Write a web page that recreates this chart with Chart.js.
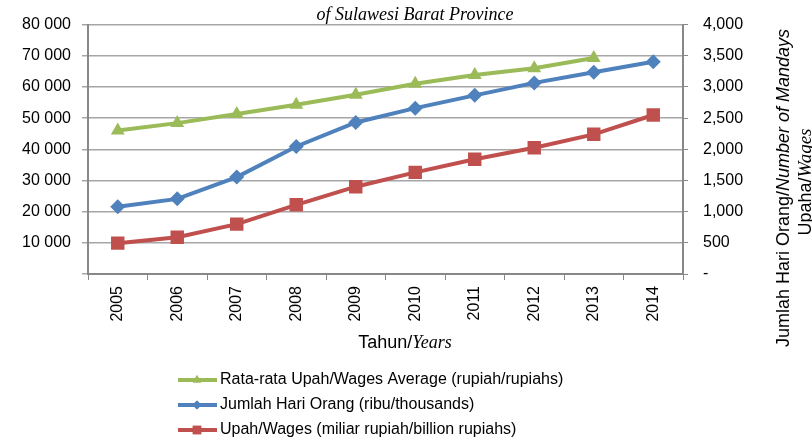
<!DOCTYPE html>
<html>
<head>
<meta charset="utf-8">
<script src="https://cdn.jsdelivr.net/npm/chart.js"></script>
<style>
  body { margin: 0; background: #fff; }
  canvas { display: block; }
</style>
</head>
<body>
<canvas id="lineChart" width="812" height="445"></canvas>
<script>
// data
const years = ['2005', '2006', '2007', '2008', '2009', '2010', '2011', '2012', '2013', '2014'];
const wagesAverage = [46000, 48400, 51300, 54300, 57500, 61000, 63800, 66000, 69300, null]; // rupiah
const mandays = [1080, 1205, 1555, 2045, 2430, 2660, 2865, 3065, 3235, 3405];     // thousands
const wages = [495, 590, 800, 1110, 1400, 1630, 1840, 2025, 2240, 2550];        // billion rupiah
const leftTicks = [0, 10000, 20000, 30000, 40000, 50000, 60000, 70000, 80000];

const GREEN = '#9bbb59', BLUE = '#4f81bd', RED = '#c0504d';
const SANS = '"Liberation Sans", Arial, sans-serif';
const SERIF = '"Liberation Serif", "Times New Roman", serif';

// draws a run of text pieces with their own fonts, one after the other
function drawPieces(ctx, pieces, x, y) {
  let cx = x;
  pieces.forEach(p => {
    ctx.font = p.font;
    ctx.fillText(p.text, cx, y);
    cx += ctx.measureText(p.text).width;
  });
}
function piecesWidth(ctx, pieces) {
  let w = 0;
  pieces.forEach(p => { ctx.font = p.font; w += ctx.measureText(p.text).width; });
  return w;
}

const extras = {
  id: 'extras',
  afterDraw(chart) {
    const ctx = chart.ctx;
    ctx.save();
    ctx.fillStyle = '#000';
    ctx.textBaseline = 'middle';

    // title (second line only, first is cut off in the source)
    ctx.font = 'italic 18px ' + SERIF;
    ctx.textAlign = 'center';
    ctx.fillText('of Sulawesi Barat Province', 415, 15);
    ctx.textAlign = 'left';

    // x axis title
    const xt = [
      { text: 'Tahun/', font: '18px ' + SANS },
      { text: 'Years', font: 'italic 18px ' + SERIF }
    ];
    drawPieces(ctx, xt, 405 - piecesWidth(ctx, xt) / 2, 343);

    // right axis title, rotated
    const r1 = [
      { text: 'Jumlah Hari Orang/', font: '18px ' + SANS },
      { text: 'Number of Mandays', font: 'italic 18px ' + SANS }
    ];
    const r2 = [
      { text: 'Upaha/', font: '18px ' + SANS },
      { text: 'Wages', font: 'italic 19px ' + SERIF }
    ];
    ctx.save();
    ctx.translate(784, 188);
    ctx.rotate(-Math.PI / 2);
    drawPieces(ctx, r1, -piecesWidth(ctx, r1) / 2, 0);
    ctx.restore();
    ctx.save();
    ctx.translate(806, 182);
    ctx.rotate(-Math.PI / 2);
    drawPieces(ctx, r2, -piecesWidth(ctx, r2) / 2, 0);
    ctx.restore();

    // legend
    const rows = [
      { label: 'Rata-rata Upah/Wages Average (rupiah/rupiahs)', color: GREEN, style: 'triangle', r: 5 },
      { label: 'Jumlah Hari Orang (ribu/thousands)', color: BLUE, style: 'rectRot', r: 4.5 },
      { label: 'Upah/Wages (miliar rupiah/billion rupiahs)', color: RED, style: 'rect', r: 6 }
    ];
    rows.forEach((row, i) => {
      const y = 380 + i * 25;
      ctx.strokeStyle = row.color;
      ctx.lineWidth = 4;
      ctx.beginPath();
      ctx.moveTo(178, y);
      ctx.lineTo(217, y);
      ctx.stroke();
      ctx.fillStyle = row.color;
      Chart.helpers.drawPoint(ctx, { pointStyle: row.style, radius: row.r, borderWidth: 0 }, 197, y);
      ctx.fill();
      ctx.fillStyle = '#000';
      ctx.font = '16px ' + SANS;
      ctx.fillText(row.label, 220, y);
    });
    ctx.restore();
  }
};

new Chart(document.getElementById('lineChart'), {
  type: 'line',
  data: {
    labels: years,
    datasets: [{
      label: 'Rata-rata Upah/Wages Average (rupiah/rupiahs)',
      data: wagesAverage,
      yAxisID: 'y',
      borderColor: GREEN,
      backgroundColor: GREEN,
      borderWidth: 4,
      pointStyle: 'triangle',
      pointRadius: 8,
      pointBorderWidth: 0,
      tension: 0
    }, {
      label: 'Jumlah Hari Orang (ribu/thousands)',
      data: mandays,
      yAxisID: 'y1',
      borderColor: BLUE,
      backgroundColor: BLUE,
      borderWidth: 4,
      pointStyle: 'rectRot',
      pointRadius: 7.5,
      pointBorderWidth: 0,
      tension: 0
    }, {
      label: 'Upah/Wages (miliar rupiah/billion rupiahs)',
      data: wages,
      yAxisID: 'y1',
      borderColor: RED,
      backgroundColor: RED,
      borderWidth: 4,
      pointStyle: 'rect',
      pointRadius: 9.5,
      pointBorderWidth: 0,
      tension: 0
    }]
  },
  options: {
    responsive: false,
    animation: false,
    layout: { padding: { top: 24, left: 0, right: 0, bottom: 0 } },
    plugins: {
      legend: { display: false },
      tooltip: { enabled: false }
    },
    scales: {
      x: {
        offset: true,
        grid: { offset: true, drawOnChartArea: false, drawTicks: true, tickLength: 6, color: '#888' },
        border: { display: true, color: '#888', width: 2 },
        ticks: { minRotation: 90, maxRotation: 90, padding: 6, color: '#000', font: { size: 16, family: SANS } },
        afterFit(scale) { scale.height = 171; }
      },
      y: {
        position: 'left',
        min: 0,
        max: 80000,
        afterBuildTicks(scale) { scale.ticks = leftTicks.map(v => ({ value: v })); },
        grid: { color: '#a6a6a6', lineWidth: 1.5, tickLength: 6 },
        border: { display: true, color: '#888', width: 2 },
        ticks: {
          padding: 11,
          color: '#000',
          font: { size: 16, family: SANS },
          callback: v => v === 0 ? '' : String(v).replace(/\B(?=(\d{3})+(?!\d))/g, ' ')
        },
        afterFit(scale) { scale.width = 88; }
      },
      y1: {
        position: 'right',
        min: 0,
        max: 4000,
        grid: { drawOnChartArea: false, tickLength: 5, color: '#888' },
        border: { display: true, color: '#888', width: 2 },
        ticks: {
          stepSize: 500,
          padding: 15,
          color: '#000',
          font: { size: 16, family: SANS },
          callback: v => v === 0 ? '-' : v.toLocaleString('en-US')
        },
        afterFit(scale) { scale.width = 129; }
      }
    }
  },
  plugins: [extras]
});
</script>
</body>
</html>
